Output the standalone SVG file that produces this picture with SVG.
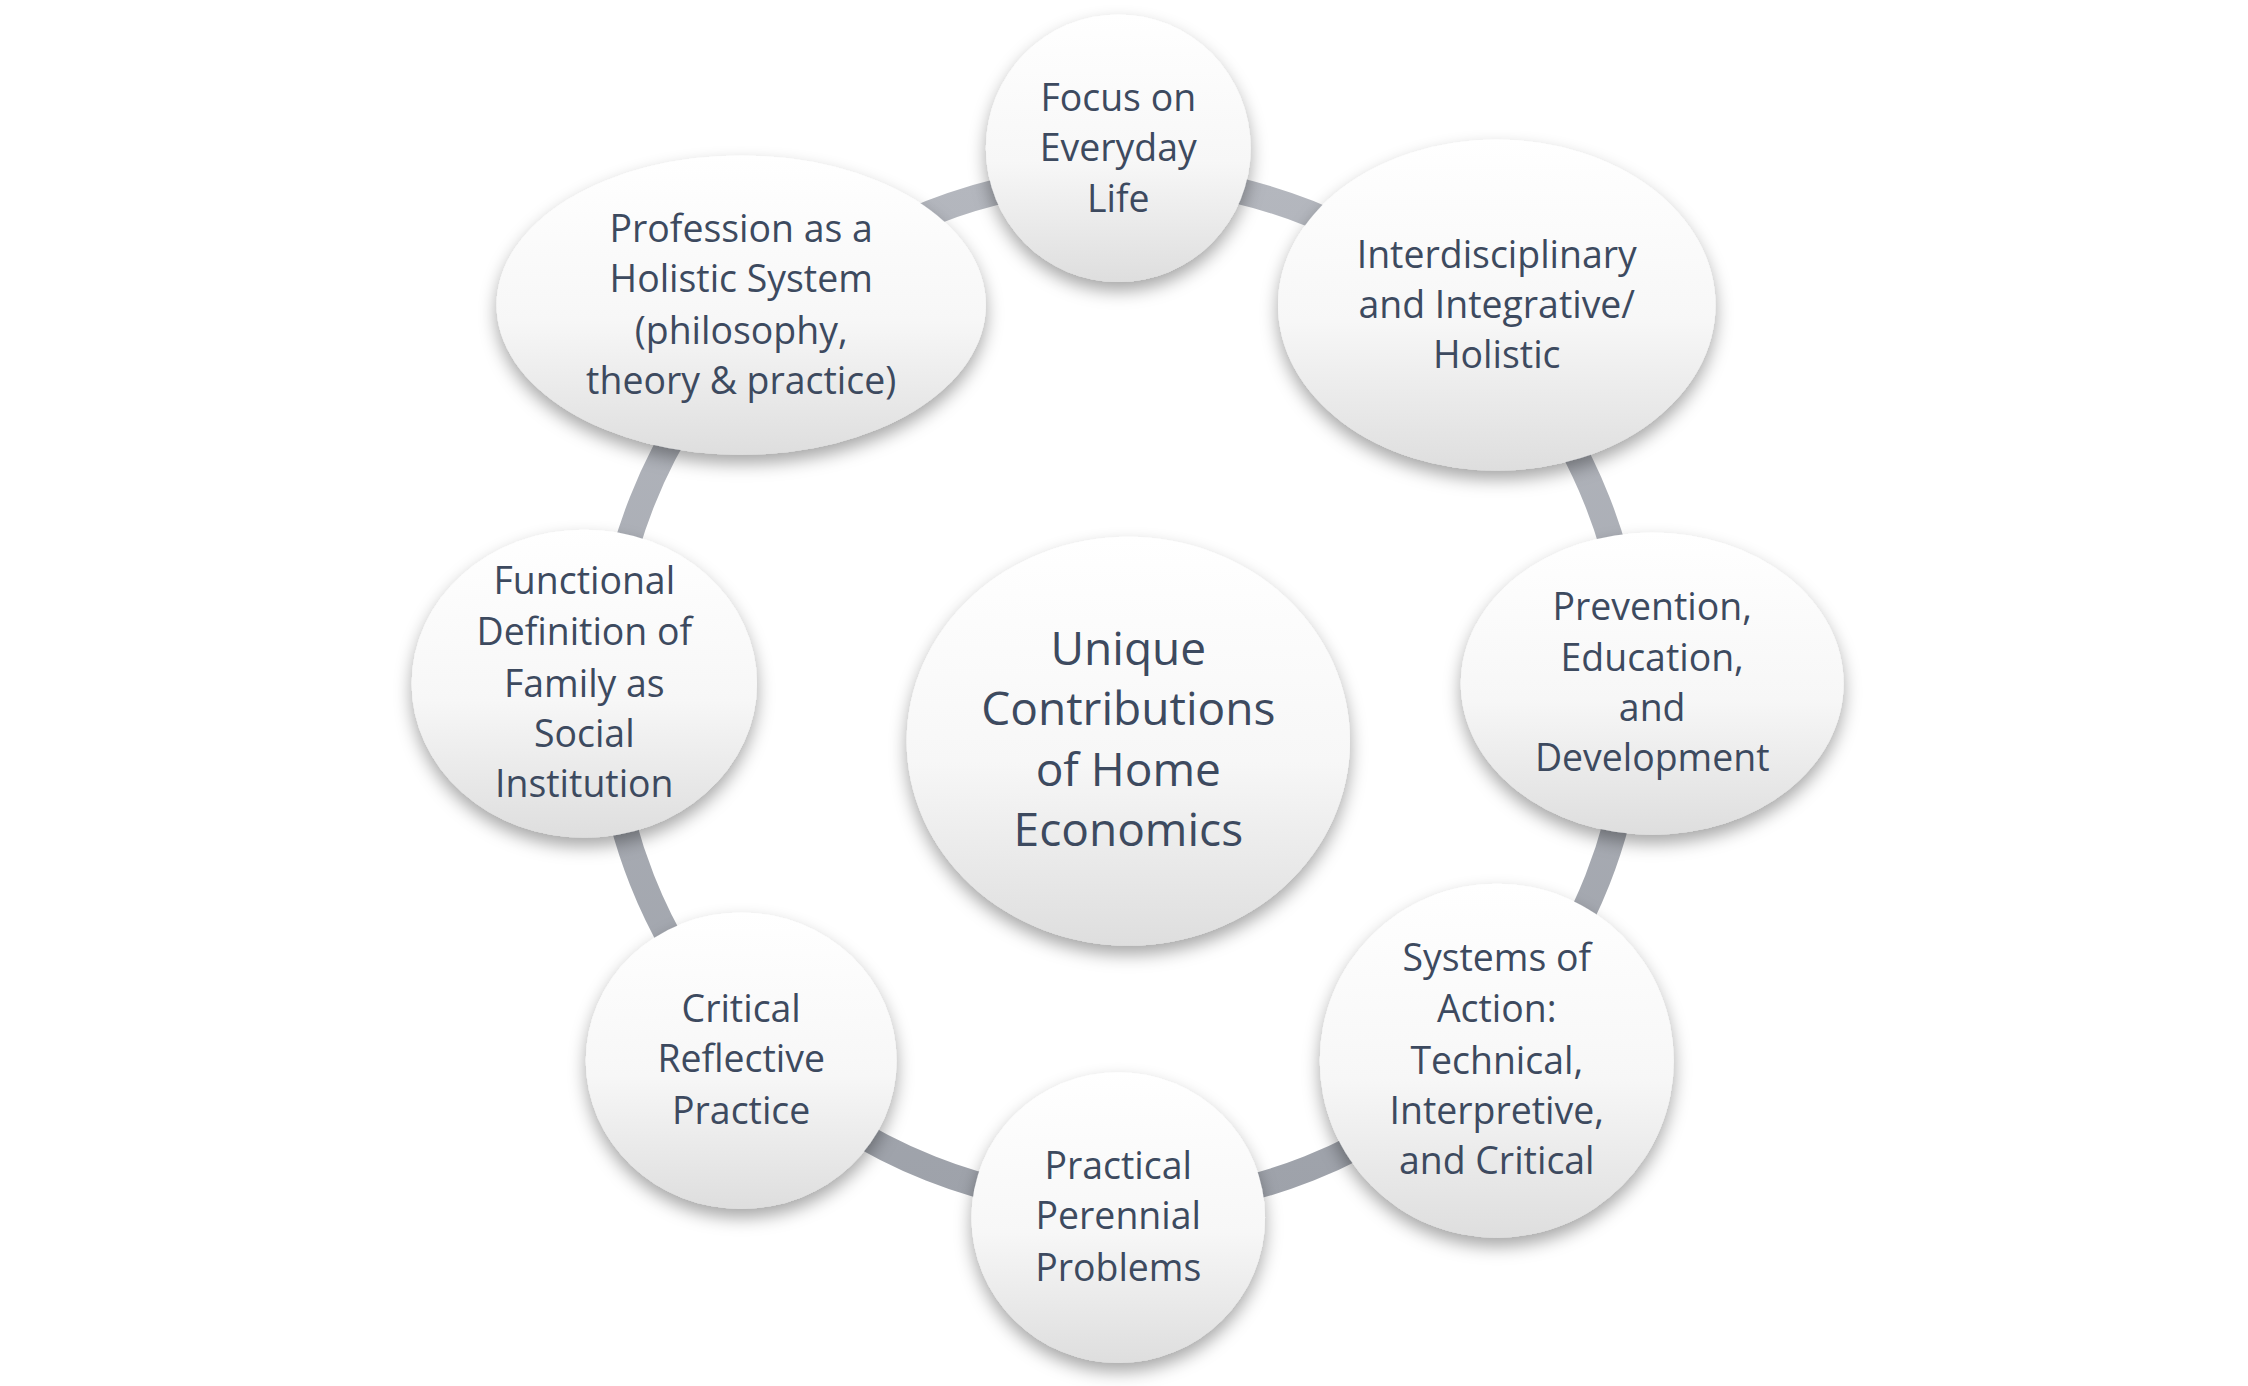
<svg xmlns="http://www.w3.org/2000/svg" width="2248" height="1386" viewBox="0 0 2248 1386">
<defs>
<linearGradient id="g" x1="0" y1="0" x2="0" y2="1"><stop offset="0" stop-color="#ffffff"/><stop offset="0.55" stop-color="#f7f7f7"/><stop offset="1" stop-color="#dedede"/></linearGradient>
<linearGradient id="r" x1="0" y1="0" x2="0" y2="1"><stop offset="0" stop-color="#b4b7be"/><stop offset="1" stop-color="#9ea2aa"/></linearGradient>
<filter id="sh" x="-20%" y="-20%" width="140%" height="150%"><feDropShadow dx="0" dy="6" stdDeviation="6" flood-color="#000" flood-opacity="0.35"/></filter>
</defs>
<style>
ellipse.n{fill:url(#g);filter:url(#sh)}
text{font-family:"Open Sans","Liberation Sans",sans-serif;font-size:26px;fill:#3d4a5f;text-anchor:middle}
text.c{font-size:32px}
</style>
<rect width="2248" height="1386" fill="#fff"/>
<g transform="scale(1.4392)">
<g id="connectors"><circle cx="778" cy="480" r="357" fill="none" stroke="url(#r)" stroke-width="18"/></g>
<g id="n-center"><ellipse class="n" cx="784" cy="515" rx="154" ry="142"/><text class="c"><tspan x="784" y="462">Unique</tspan><tspan x="784" y="504">Contributions</tspan><tspan x="784" y="546">of Home</tspan><tspan x="784" y="588">Economics</tspan></text></g>
<g id="n1"><ellipse class="n" cx="777" cy="103" rx="92" ry="93"/><text><tspan x="777" y="77">Focus on</tspan><tspan x="777" y="112">Everyday</tspan><tspan x="777" y="147">Life</tspan></text></g>
<g id="n2"><ellipse class="n" cx="1040" cy="212" rx="152" ry="115"/><text><tspan x="1040" y="186">Interdisciplinary</tspan><tspan x="1040" y="221">and Integrative/</tspan><tspan x="1040" y="256">Holistic</tspan></text></g>
<g id="n3"><ellipse class="n" cx="1148" cy="475" rx="133" ry="105"/><text><tspan x="1148" y="431">Prevention,</tspan><tspan x="1148" y="466">Education,</tspan><tspan x="1148" y="501">and</tspan><tspan x="1148" y="536">Development</tspan></text></g>
<g id="n4"><ellipse class="n" cx="1040" cy="737" rx="123" ry="123"/><text><tspan x="1040" y="675">Systems of</tspan><tspan x="1040" y="710">Action:</tspan><tspan x="1040" y="746">Technical,</tspan><tspan x="1040" y="781">Interpretive,</tspan><tspan x="1040" y="816">and Critical</tspan></text></g>
<g id="n5"><ellipse class="n" cx="777" cy="846" rx="102" ry="101"/><text><tspan x="777" y="819">Practical</tspan><tspan x="777" y="854">Perennial</tspan><tspan x="777" y="890">Problems</tspan></text></g>
<g id="n6"><ellipse class="n" cx="515" cy="737" rx="108" ry="103"/><text><tspan x="515" y="710">Critical</tspan><tspan x="515" y="745">Reflective</tspan><tspan x="515" y="781">Practice</tspan></text></g>
<g id="n7"><ellipse class="n" cx="406" cy="475" rx="120" ry="107"/><text><tspan x="406" y="413">Functional</tspan><tspan x="406" y="448">Definition of</tspan><tspan x="406" y="484">Family as</tspan><tspan x="406" y="519">Social</tspan><tspan x="406" y="554">Institution</tspan></text></g>
<g id="n8"><ellipse class="n" cx="515" cy="212" rx="170" ry="104"/><text><tspan x="515" y="168">Profession as a</tspan><tspan x="515" y="203">Holistic System</tspan><tspan x="515" y="239">(philosophy,</tspan><tspan x="515" y="274">theory &amp; practice)</tspan></text></g>
</g>
</svg>
